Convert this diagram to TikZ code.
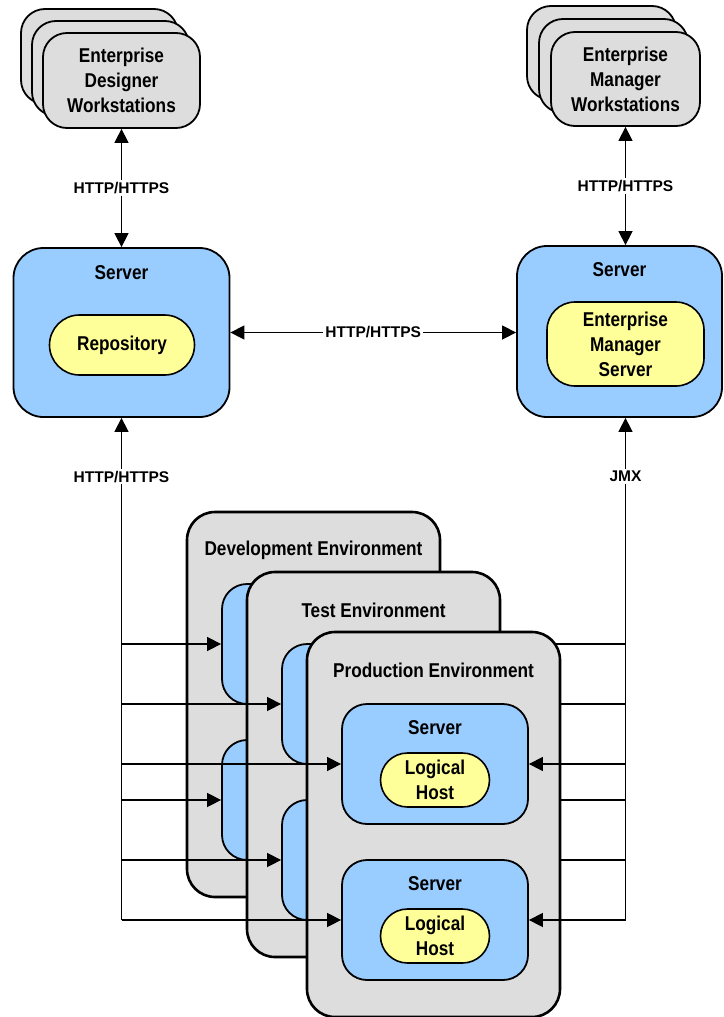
\documentclass[tikz,border=0pt]{standalone}
\usepackage{fontspec}
\usepackage{tikz}
\usetikzlibrary{arrows.meta,positioning}
\setmainfont{Liberation Sans}
\newfontfamily\narrowsf{Liberation Sans}[FakeStretch=0.86]
\definecolor{envgray}{HTML}{DDDDDD}
\definecolor{srvblue}{HTML}{99CCFF}
\definecolor{appyellow}{HTML}{FFFF99}
\newcommand{\boxtxt}{\narrowsf\bfseries\fontsize{20}{25}\selectfont}
\newcommand{\lbltxt}{\bfseries\fontsize{15.5}{18}\selectfont}

\begin{document}
\begin{tikzpicture}[x=1pt,y=-1pt,
    wsbox/.style={draw, line width=1.8pt, fill=envgray, rounded corners=24pt, align=center, font=\boxtxt},
    srvbox/.style={draw, line width=1.8pt, fill=srvblue, rounded corners=28pt},
    appbox/.style={draw, line width=1.6pt, fill=appyellow, align=center, font=\boxtxt},
    envbox/.style={draw, line width=2.6pt, fill=envgray, rounded corners=28pt, minimum width=253pt, minimum height=385pt},
    boxtitle/.style={font=\boxtxt, inner sep=0pt},
    lbl/.style={font=\lbltxt, fill=white, inner sep=2pt},
    conn/.style={line width=1.5pt, -{Triangle[length=14pt,width=14pt]}},
    conn2/.style={line width=1.5pt, {Triangle[length=14pt,width=14pt]}-{Triangle[length=14pt,width=14pt]}}]
    \useasboundingbox (0,0) rectangle (723,1017);
    % Enterprise Designer workstations
    \node[wsbox, minimum width=157pt, minimum height=95pt] (dws3) at (99.5,56.5) {};
    \node[wsbox, minimum width=157pt, minimum height=95pt] (dws2) at (110.5,68.5) {};
    \node[wsbox, minimum width=157pt, minimum height=95pt] (dws) at (121.5,80.5) {Enterprise\\Designer\\Workstations};
    % Enterprise Manager workstations
    \node[wsbox, minimum width=149pt, minimum height=94pt] (mws3) at (601.5,53) {};
    \node[wsbox, minimum width=149pt, minimum height=94pt] (mws2) at (613.5,66) {};
    \node[wsbox, minimum width=149pt, minimum height=94pt] (mws) at (625.5,79) {Enterprise\\Manager\\Workstations};
    % Serveurs du haut
    \node[srvbox, rounded corners=30pt, minimum width=216pt, minimum height=169pt] (lsrv) at (121.5,332.5) {};
    \node[boxtitle] (lsrv-t) at ([yshift=-26pt]lsrv.north) {Server};
    \node[appbox, rounded corners=30pt, minimum width=145pt, minimum height=60pt] (repo) at (122,345) {Repository};
    \node[srvbox, rounded corners=30pt, minimum width=205pt, minimum height=171pt] (msrv) at (619.5,331.5) {};
    \node[boxtitle] (msrv-t) at ([yshift=-25pt]msrv.north) {Server};
    \node[appbox, rounded corners=28pt, minimum width=157pt, minimum height=84pt] (emsrv) at (625.5,344) {Enterprise\\Manager\\Server};
    % Liaisons du haut
    \draw[conn2] (dws.south) -- node[lbl] (l-dws) {HTTP/HTTPS} (dws.south |- lsrv.north);
    \draw[conn2] (mws.south) -- node[lbl] (l-mws) {HTTP/HTTPS} (mws.south |- msrv.north);
    \draw[conn2] (lsrv.east) -- node[lbl] (l-srv) {HTTP/HTTPS} (lsrv.east -| msrv.west);
    % Environnements
    \foreach \nm/\ttl/\d in {dev/Development Environment/0, test/Test Environment/60, prod/Production Environment/120}{
        \node[envbox] (\nm) at (313.5+\d,704.5+\d) {};
        \node[boxtitle] (\nm-t) at ([yshift=-40pt]\nm.north) {\ttl};
        \node[srvbox, rounded corners=25pt, minimum width=186pt, minimum height=120pt] (\nm-s1) at (315+\d,644+\d) {};
        \node[srvbox, rounded corners=25pt, minimum width=186pt, minimum height=120pt] (\nm-s2) at (315+\d,800+\d) {};
        \draw[conn] (lsrv.south |- \nm-s1.west) -- (\nm-s1.west);
        \draw[conn] (lsrv.south |- \nm-s2.west) -- (\nm-s2.west);
        \draw[conn] (emsrv.south |- \nm-s1.east) -- (\nm-s1.east);
        \draw[conn] (emsrv.south |- \nm-s2.east) -- (\nm-s2.east);
    }
    % Serveurs de production
    \node[boxtitle] (prod-t1) at ([yshift=-25pt]prod-s1.north) {Server};
    \node[appbox, rounded corners=27pt, minimum width=109pt, minimum height=54pt] (prod-h1) at (435,780) {Logical\\Host};
    \node[boxtitle] (prod-t2) at ([yshift=-25pt]prod-s2.north) {Server};
    \node[appbox, rounded corners=27pt, minimum width=109pt, minimum height=54pt] (prod-h2) at (435,936) {Logical\\Host};
    % Lignes verticales du bas
    \draw[conn] (lsrv.south |- prod-s2.west) -- node[lbl, pos=0.883] (l-http) {HTTP/HTTPS} (lsrv.south);
    \draw[conn] (emsrv.south |- prod-s2.east) -- node[lbl, pos=0.883] (l-jmx) {JMX} (emsrv.south |- msrv.south);
\end{tikzpicture}
\end{document}
